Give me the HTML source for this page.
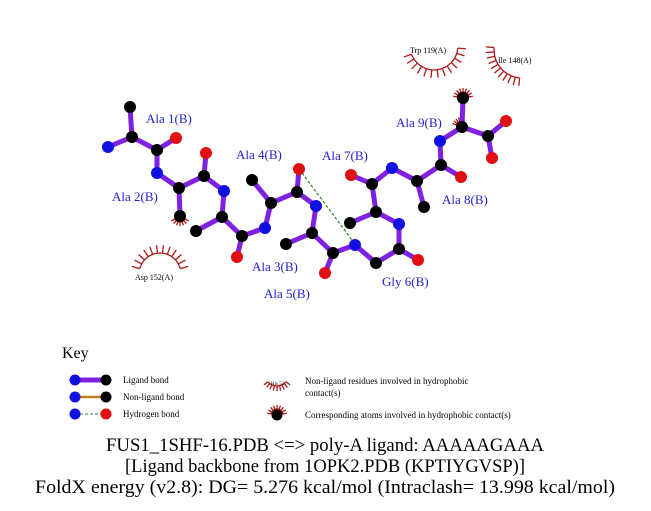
<!DOCTYPE html>
<html><head><meta charset="utf-8"><style>
html,body{margin:0;padding:0;background:#fff;width:651px;height:511px;overflow:hidden}
svg{display:block}
.l{font-family:"Liberation Serif",serif;font-size:13px;fill:#2222cc}
.s{font-family:"Liberation Serif",serif;font-size:8px;fill:#000}
.k{font-family:"Liberation Serif",serif;font-size:9px;fill:#000}
.t{font-family:"Liberation Serif",serif;font-size:19px;fill:#000}
</style></head><body>
<svg id="s" width="651" height="511" xmlns="http://www.w3.org/2000/svg">
<g id="arcs" stroke="#b01818" stroke-width="1.3" fill="none"></g>
<line x1="299" y1="169" x2="355" y2="244" stroke="#2a8a2a" stroke-width="1.2" stroke-dasharray="3,2"/>
<g id="bonds" stroke="#8020e0" stroke-width="5" stroke-linecap="round"></g>
<g id="atoms"></g>
<text class="l" x="146" y="123">Ala 1(B)</text>
<text class="l" x="112" y="201">Ala 2(B)</text>
<text class="l" x="236" y="159">Ala 4(B)</text>
<text class="l" x="322" y="160">Ala 7(B)</text>
<text class="l" x="396" y="127">Ala 9(B)</text>
<text class="l" x="442" y="204">Ala 8(B)</text>
<text class="l" x="252" y="271">Ala 3(B)</text>
<text class="l" x="264" y="298">Ala 5(B)</text>
<text class="l" x="382" y="286">Gly 6(B)</text>
<text class="s" x="135" y="280">Asp 152(A)</text>
<text class="s" x="410" y="53">Trp 119(A)</text>
<text class="s" x="498" y="63">Ile 148(A)</text>
<text x="62" y="358" style="font-family:'Liberation Serif',serif;font-size:16px">Key</text>
<line x1="75" y1="380" x2="106" y2="380" stroke="#8020e0" stroke-width="5"/>
<line x1="75" y1="397" x2="106" y2="397" stroke="#c08020" stroke-width="2.5"/>
<line x1="75" y1="414" x2="106" y2="414" stroke="#2a8a2a" stroke-width="1" stroke-dasharray="3,2"/>
<circle cx="75" cy="380" r="5.5" fill="#1010e0"/><circle cx="106" cy="380" r="5.5" fill="#000"/>
<circle cx="75" cy="397" r="5.5" fill="#1010e0"/><circle cx="106" cy="397" r="5.5" fill="#000"/>
<circle cx="75" cy="414" r="5.5" fill="#1010e0"/><circle cx="106" cy="414" r="5.5" fill="#e01010"/>
<text class="k" x="123" y="383">Ligand bond</text>
<text class="k" x="123" y="400">Non-ligand bond</text>
<text class="k" x="123" y="417">Hydrogen  bond</text>
<text style="font-family:'Liberation Serif',serif;font-size:5px" x="271" y="385">His 53</text>
<text class="k" x="305" y="384">Non-ligand residues involved in hydrophobic</text>
<text class="k" x="305" y="396">contact(s)</text>
<circle cx="277" cy="415" r="5.5" fill="#000"/>
<text class="k" x="305" y="418">Corresponding atoms involved in hydrophobic contact(s)</text>
<text class="t" x="325" y="451" text-anchor="middle" textLength="438" lengthAdjust="spacingAndGlyphs">FUS1_1SHF-16.PDB &lt;=&gt; poly-A ligand: AAAAAGAAA</text>
<text class="t" x="325" y="472" text-anchor="middle" textLength="400" lengthAdjust="spacingAndGlyphs">[Ligand backbone from 1OPK2.PDB (KPTIYGVSP)]</text>
<text class="t" x="325" y="493" text-anchor="middle" textLength="580" lengthAdjust="spacingAndGlyphs">FoldX energy (v2.8): DG= 5.276 kcal/mol (Intraclash= 13.998 kcal/mol)</text>
</svg>
<script>
var A={cb1:[130,107,'k'],ca1:[132,137,'k'],n1:[108,147,'b'],c1:[157,150,'k'],o1:[176,138,'r'],
n2:[157,173,'b'],ca2:[179,188,'k'],cb2:[180,216,'k'],c2:[204,176,'k'],o2:[206,153,'r'],
n3:[224,191,'b'],ca3:[222,217,'k'],cb3:[196,231,'k'],c3:[242,236,'k'],o3:[237,257,'r'],
n4:[265,228,'b'],ca4:[271,203,'k'],cb4:[252,180,'k'],c4:[297,192,'k'],o4:[299,169,'r'],
n5:[316,206,'b'],ca5:[312,233,'k'],cb5:[286,244,'k'],c5:[333,253,'k'],o5:[325,273,'r'],
n6:[355,245,'b'],ca6:[376,263,'k'],c6:[399,249,'k'],o6:[418,260,'r'],
n7:[399,224,'b'],ca7:[376,212,'k'],cb7:[350,223,'k'],c7:[372,184,'k'],o7:[351,175,'r'],
n8:[392,168,'b'],ca8:[417,181,'k'],cb8:[424,207,'k'],c8:[441,165,'k'],o8:[461,177,'r'],
n9:[440,141,'b'],ca9:[462,127,'k'],cb9:[463,98,'k'],c9:[488,136,'k'],o9:[506,121,'r'],o9b:[492,158,'r']};
var B=[['cb1','ca1'],['n1','ca1'],['ca1','c1'],['c1','o1'],['c1','n2'],['n2','ca2'],['ca2','cb2'],['ca2','c2'],['c2','o2'],['c2','n3'],['n3','ca3'],['ca3','cb3'],['ca3','c3'],['c3','o3'],['c3','n4'],['n4','ca4'],['ca4','cb4'],['ca4','c4'],['c4','o4'],['c4','n5'],['n5','ca5'],['ca5','cb5'],['ca5','c5'],['c5','o5'],['c5','n6'],['n6','ca6'],['ca6','c6'],['c6','o6'],['c6','n7'],['n7','ca7'],['ca7','cb7'],['ca7','c7'],['c7','o7'],['c7','n8'],['n8','ca8'],['ca8','cb8'],['ca8','c8'],['c8','o8'],['c8','n9'],['n9','ca9'],['ca9','cb9'],['ca9','c9'],['c9','o9'],['c9','o9b']];
var NS='http://www.w3.org/2000/svg';
function el(p,t,a){var e=document.createElementNS(NS,t);for(var k in a)e.setAttribute(k,a[k]);p.appendChild(e);return e;}
var gb=document.getElementById('bonds'),ga=document.getElementById('atoms'),gr=document.getElementById('arcs');
B.forEach(function(b){var p=A[b[0]],q=A[b[1]];el(gb,'line',{x1:p[0],y1:p[1],x2:q[0],y2:q[1]});});
var col={k:'#000',b:'#1010e0',r:'#e01010'};
for(var k in A){var a=A[k];el(ga,'circle',{cx:a[0],cy:a[1],r:6,fill:col[a[2]]});}
function arc(cx,cy,r,a0,a1,n,len){var d='';for(var i=0;i<=n;i++){var t=(a0+(a1-a0)*i/n)*Math.PI/180;var x=cx+r*Math.cos(t),y=cy+r*Math.sin(t);d+=(i?'L':'M')+x.toFixed(1)+' '+y.toFixed(1);}
el(gr,'path',{d:d});for(var i=0;i<=n;i++){var t=(a0+(a1-a0)*i/n)*Math.PI/180;el(gr,'line',{x1:cx+r*Math.cos(t),y1:cy+r*Math.sin(t),x2:cx+(r+len)*Math.cos(t),y2:cy+(r+len)*Math.sin(t)});}}
arc(160,274,21,195,345,11,8);
arc(434,46,24,5,160,12,8);
arc(522,50,28,95,185,10,8);
arc(277,374,12,40,140,8,5);
arc(180,216,6,30,150,6,4);
arc(463,98,6,-170,-10,8,4);
arc(277,415,6,-170,-10,8,4);
arc(462,127,6,-160,-110,3,4);
</script>
</body></html>
